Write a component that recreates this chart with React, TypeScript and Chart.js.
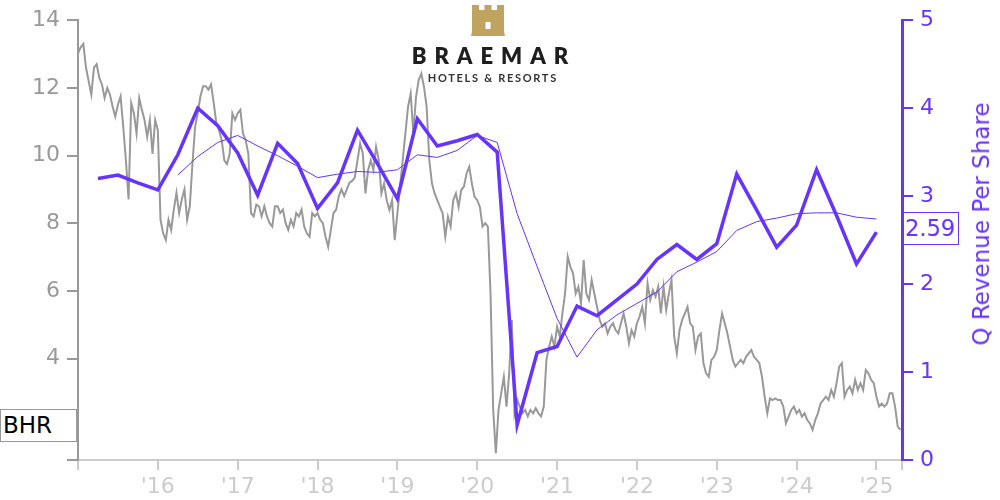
import React, { useEffect, useRef } from 'react';
import { Chart, registerables } from 'chart.js';

Chart.register(...registerables);

const PURPLE = '#6633ff';
const GRAY = '#999999';
const LIGHT = '#cccccc';
const FONT = "'DejaVu Sans', sans-serif";

const ticker = 'BHR';
const rightAxisTitle = 'Q Revenue Per Share';

// Daily-ish share price, sampled every 1/30 year starting Jan 2015
const priceStartYear = 2015.0;
const priceStepYears = 1 / 30;
const priceValues = [
  13.02, 13.2, 13.3, 12.6, 12.2, 11.8, 12.6, 12.7, 12.3, 12.1,
  11.7, 12.0, 11.8, 11.45, 11.15, 11.5, 11.75, 10.85, 9.85, 8.7,
  11.55, 11.25, 10.65, 11.7, 11.35, 11.05, 10.55, 11.05, 10.05, 11.05,
  10.75, 8.1, 7.7, 7.5, 8.1, 7.8, 8.4, 8.9, 8.3, 8.7,
  9.0, 8.1, 8.5, 9.75, 10.85, 11.25, 11.75, 12.05, 12.05, 11.95,
  12.1, 11.55, 10.95, 10.75, 10.45, 9.85, 9.75, 10.05, 11.25, 11.05,
  11.25, 11.35, 10.65, 10.45, 10.05, 8.3, 8.2, 8.55, 8.5, 8.2,
  8.5, 8.2, 8.0, 7.9, 8.5, 8.5, 8.3, 8.4, 8.0, 7.8,
  8.1, 7.9, 8.3, 8.2, 8.4, 7.9, 7.7, 7.6, 8.3, 8.2,
  8.3, 8.1, 8.0, 7.6, 7.3, 7.8, 8.3, 8.4, 8.8, 9.0,
  8.8, 9.0, 9.2, 9.25, 9.35, 9.85, 10.36, 10.06, 8.88, 9.57,
  9.86, 9.57, 10.26, 9.86, 8.88, 9.17, 8.68, 8.39, 8.68, 7.5,
  8.29, 9.08, 9.86, 10.65, 11.44, 11.83, 10.65, 11.73, 12.23, 12.42,
  12.03, 11.44, 9.86, 9.17, 8.88, 8.68, 8.48, 8.29, 7.6, 8.19,
  7.9, 8.68, 8.88, 8.48, 8.98, 9.08, 9.47, 9.67, 9.17, 8.78,
  8.68, 8.48, 7.9, 8.0, 7.9, 5.92, 2.48, 1.2, 2.48, 2.97,
  3.46, 2.58, 3.56, 5.14, 2.38, 2.78, 2.58, 2.38, 2.48, 2.29,
  2.48, 2.38, 2.53, 2.38, 2.29, 2.58, 3.96, 4.35, 4.65, 4.35,
  4.94, 4.65, 5.33, 5.92, 7.01, 6.71, 6.52, 5.92, 6.12, 5.63,
  6.91, 5.92, 5.73, 6.32, 5.92, 5.53, 5.14, 4.94, 5.04, 4.74,
  4.94, 5.04, 4.84, 4.74, 5.04, 5.33, 4.94, 4.45, 4.84, 4.65,
  5.04, 5.24, 5.53, 5.04, 6.22, 5.73, 6.02, 5.83, 6.12, 5.33,
  6.12, 5.43, 5.92, 6.32, 4.65, 4.15, 4.84, 5.14, 5.33, 5.53,
  5.04, 4.94, 4.25, 4.65, 4.74, 3.86, 3.56, 3.46, 3.96, 4.05,
  4.25, 4.84, 5.33, 5.04, 4.74, 4.35, 3.96, 3.76, 3.86, 3.96,
  3.86, 4.05, 4.15, 4.25, 4.05, 3.96, 3.86, 3.46, 2.87, 2.38,
  2.82, 2.77, 2.82, 2.77, 2.77, 2.58, 2.08, 2.28, 2.48, 2.58,
  2.38, 2.48, 2.28, 2.38, 2.18, 2.08, 1.89, 2.18, 2.38, 2.67,
  2.77, 2.87, 2.77, 3.07, 2.87, 3.27, 3.76, 3.86, 2.87, 3.07,
  3.17, 2.97, 3.37, 3.07, 3.27, 3.07, 3.66, 3.56, 3.37, 3.27,
  2.87, 2.58, 2.67, 2.58, 2.67, 2.97, 2.97, 2.58, 1.99, 1.89,
];

// Quarterly revenue per share (quarter ends)
const quarterDates = [
  2015.25, 2015.5, 2015.75, 2016.0, 2016.25, 2016.5, 2016.75, 2017.0,
  2017.25, 2017.5, 2017.75, 2018.0, 2018.25, 2018.5, 2018.75, 2019.0,
  2019.25, 2019.5, 2019.75, 2020.0, 2020.25, 2020.5, 2020.75, 2021.0,
  2021.25, 2021.5, 2021.75, 2022.0, 2022.25, 2022.5, 2022.75, 2023.0,
  2023.25, 2023.5, 2023.75, 2024.0, 2024.25, 2024.5, 2024.75, 2025.0,
];
const revenuePerShare = [
  3.2, 3.24, 3.15, 3.07, 3.47, 4.0, 3.8, 3.49,
  3.01, 3.6, 3.37, 2.86, 3.15, 3.75, 3.37, 2.97,
  3.88, 3.57, 3.63, 3.7, 3.5, 0.4, 1.22, 1.29,
  1.75, 1.64, 1.82, 2.0, 2.28, 2.45, 2.28, 2.46,
  3.25, 2.84, 2.42, 2.67, 3.3, 2.78, 2.23, 2.59,
];

// Trailing four-quarter average revenue per share
const ttmDates = [
  2016.25, 2016.5, 2016.75, 2017.0, 2017.25, 2017.5, 2017.75, 2018.0,
  2018.25, 2018.5, 2018.75, 2019.0, 2019.25, 2019.5, 2019.75, 2020.0,
  2020.25, 2020.5, 2020.75, 2021.0, 2021.25, 2021.5, 2021.75, 2022.0,
  2022.25, 2022.5, 2022.75, 2023.0, 2023.25, 2023.5, 2023.75, 2024.0,
  2024.25, 2024.5, 2024.75, 2025.0,
];
const ttmRevenuePerShare = [
  3.24, 3.45, 3.61, 3.69, 3.57, 3.46, 3.34, 3.21,
  3.25, 3.28, 3.27, 3.3, 3.47, 3.44, 3.52, 3.69,
  3.61, 2.8, 2.2, 1.61, 1.17, 1.48, 1.65, 1.78,
  1.91, 2.14, 2.25, 2.37, 2.61, 2.71, 2.75, 2.8,
  2.81, 2.81, 2.76, 2.74,
];

const xMin = 2015.0;
const xMax = 2025.32;
const yearTicks = [2016, 2017, 2018, 2019, 2020, 2021, 2022, 2023, 2024, 2025];
const yearTickLabels = ["'16", "'17", "'18", "'19", "'20", "'21", "'22", "'23", "'24", "'25"];
const priceTicks = [2, 4, 6, 8, 10, 12, 14];

export default function App() {
  const ref = useRef<HTMLCanvasElement>(null);

  useEffect(() => {
    if (!ref.current) return;
    const priceData = priceValues.map((v, i) => ({ x: priceStartYear + i * priceStepYears, y: v }));
    const revData = quarterDates.map((d, i) => ({ x: d, y: revenuePerShare[i] }));
    const ttmData = ttmDates.map((d, i) => ({ x: d, y: ttmRevenuePerShare[i] }));

    const chart = new Chart(ref.current, {
      type: 'line',
      data: {
        datasets: [
          { data: revData, yAxisID: 'y2', borderColor: PURPLE, borderWidth: 3.5, pointRadius: 0, tension: 0, order: 0, borderJoinStyle: 'miter' },
          { data: ttmData, yAxisID: 'y2', borderColor: PURPLE, borderWidth: 1, pointRadius: 0, tension: 0, order: 1 },
          { data: priceData, yAxisID: 'y', borderColor: GRAY, borderWidth: 2, pointRadius: 0, tension: 0, order: 2 },
        ],
      },
      options: {
        animation: false,
        responsive: false,
        devicePixelRatio: 1,
        events: [],
        layout: { padding: { top: 20, left: 0, right: 0, bottom: 0 } },
        plugins: { legend: { display: false }, tooltip: { enabled: false } },
        scales: {
          x: {
            type: 'linear',
            position: 'bottom',
            min: xMin,
            max: xMax,
            border: { display: true, color: LIGHT, width: 2 },
            grid: { display: true, drawOnChartArea: false, drawTicks: true, tickLength: 10, color: LIGHT, lineWidth: 2 },
            afterBuildTicks: (s: any) => {
              s.ticks = [xMin, ...yearTicks, xMax].map((v) => ({ value: v }));
            },
            ticks: {
              autoSkip: false,
              maxRotation: 0,
              padding: 4,
              color: LIGHT,
              font: { family: FONT, size: 22 },
              callback: (v: any) => {
                const idx = yearTicks.indexOf(Number(v));
                return idx >= 0 ? yearTickLabels[idx] : '';
              },
            },
            afterFit: (s: any) => { s.height = 40; },
          },
          y: {
            type: 'linear',
            position: 'left',
            min: 1,
            max: 14,
            border: { display: true, color: GRAY, width: 2 },
            grid: { display: true, drawOnChartArea: false, drawTicks: true, tickLength: 11, color: GRAY, lineWidth: 2 },
            ticks: {
              stepSize: 2,
              padding: 7,
              color: GRAY,
              font: { family: FONT, size: 22 },
              callback: (v: any) => (priceTicks.indexOf(Number(v)) >= 0 ? String(v) : ''),
            },
            afterFit: (s: any) => { s.width = 78; },
          },
          y2: {
            type: 'linear',
            position: 'right',
            min: 0,
            max: 5,
            border: { display: true, color: PURPLE, width: 3 },
            grid: { display: true, drawOnChartArea: false, drawTicks: true, tickLength: 11, color: PURPLE, lineWidth: 2 },
            ticks: {
              stepSize: 1,
              padding: 7,
              color: PURPLE,
              font: { family: FONT, size: 22 },
            },
            afterFit: (s: any) => { s.width = 98; },
          },
        },
      },
    });
    return () => chart.destroy();
  }, []);

  const lastRev = revenuePerShare[revenuePerShare.length - 1].toFixed(2);

  return (
    <div style={{ position: 'absolute', left: 0, top: 0, width: 1000, height: 500, background: '#fff', overflow: 'hidden' }}>
      <canvas ref={ref} width={1000} height={500} style={{ position: 'absolute', left: 0, top: 0 }} />
      <svg width={34} height={31} viewBox="0 0 34 31" style={{ position: 'absolute', left: 471, top: 5 }}>
        <path
          d="M1 0 H8 V5 H13.5 V0 H20.5 V5 H26 V0 H33 V24 Q33 28 34 31 H0 Q1 28 1 24 Z"
          fill="#bfa35e"
        />
        <rect x={14.5} y={17} width={5} height={7} fill="#fff" />
      </svg>
      <div
        style={{
          position: 'absolute', left: 390, width: 200, top: 41, textAlign: 'center',
          fontFamily: 'Lato, sans-serif', fontWeight: 800, fontSize: 22, letterSpacing: 8,
          paddingLeft: 8, boxSizing: 'border-box', color: '#1e1e1e', lineHeight: '30px',
        }}
      >
        BRAEMAR
      </div>
      <div
        style={{
          position: 'absolute', left: 390, width: 204, top: 71, textAlign: 'center',
          fontFamily: 'Lato, sans-serif', fontWeight: 700, fontSize: 11, letterSpacing: 1.7,
          paddingLeft: 1.7, boxSizing: 'border-box', color: '#333', lineHeight: '14px',
        }}
      >
        HOTELS &amp; RESORTS
      </div>
      <div
        style={{
          position: 'absolute', left: 0, top: 409, width: 77, height: 33, boxSizing: 'border-box',
          border: '1px solid #999', background: '#fff', fontFamily: FONT, fontSize: 23,
          color: '#000', lineHeight: '31px', paddingLeft: 2,
        }}
      >
        {ticker}
      </div>
      <div
        style={{
          position: 'absolute', left: 903, top: 212, width: 56, height: 33, boxSizing: 'border-box',
          border: '1.5px solid ' + PURPLE, background: '#fff', fontFamily: FONT, fontSize: 22.5,
          color: PURPLE, lineHeight: '30px', paddingLeft: 1,
        }}
      >
        {lastRev}
      </div>
      <div
        style={{
          position: 'absolute', left: 981, top: 224, transform: 'translate(-50%, -50%) rotate(-90deg)',
          whiteSpace: 'nowrap', fontFamily: FONT, fontSize: 23, color: PURPLE, lineHeight: '26px',
        }}
      >
        {rightAxisTitle}
      </div>
    </div>
  );
}
